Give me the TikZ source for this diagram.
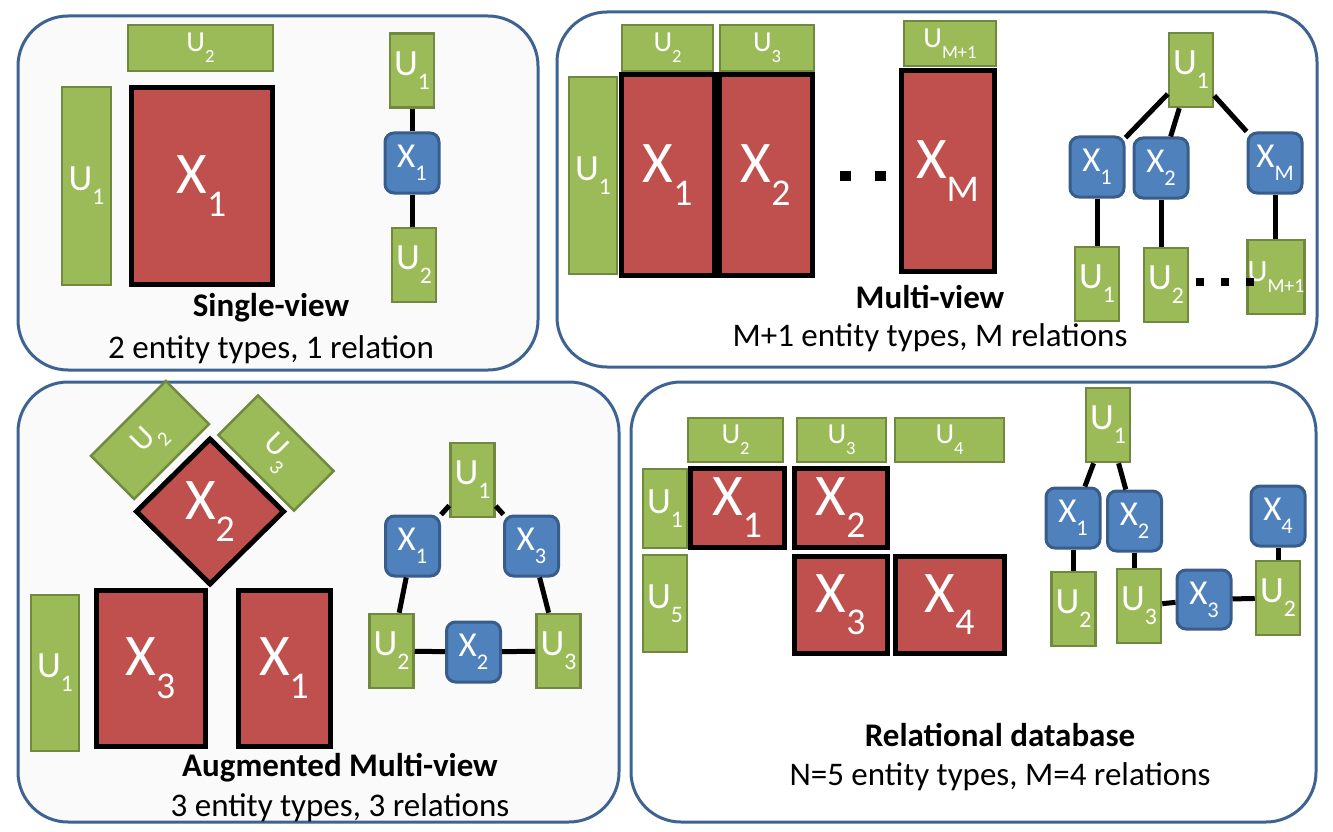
\documentclass[tikz,border=0pt]{standalone}
\usepackage{fontspec}
\setmainfont{Carlito}
\usetikzlibrary{shapes.geometric}
\definecolor{ugreen}{HTML}{9BBB59}
\definecolor{ugreenline}{HTML}{71893F}
\definecolor{xred}{HTML}{C0504D}
\definecolor{xblue}{HTML}{4F81BD}
\definecolor{xblueline}{HTML}{385D8A}
\definecolor{panelline}{HTML}{3E6393}
\definecolor{panelgray}{HTML}{FAFAFA}
\newcommand{\ent}[2]{#1\raisebox{-0.38em}{\scalebox{0.64}{#2}}}
\begin{document}
\begin{tikzpicture}[x=1pt, y=-1pt,
        panel/.style={draw=panelline, line width=3pt, rounded corners=50pt},
        ubar/.style={rectangle, draw=ugreenline, fill=ugreen, line width=2.5pt, inner sep=0pt, text=white, font=\fontsize{37}{37}\selectfont},
        ubartop/.style={ubar, font=\fontsize{29}{29}\selectfont},
        xmat/.style={rectangle, draw=black, fill=xred, line width=5pt, inner sep=0pt, text=white, font=\fontsize{59}{59}\selectfont},
        xnode/.style={rectangle, draw=xblueline, fill=xblue, line width=3pt, rounded corners=9pt, minimum width=54, minimum height=60, inner sep=0pt, text=white, font=\fontsize{35}{35}\selectfont},
        unode/.style={ubar, minimum width=44, minimum height=74},
        link/.style={line width=5pt},
        title/.style={font=\fontsize{33}{33}\selectfont\bfseries},
        note/.style={font=\fontsize{33}{33}\selectfont}
    ]
    \useasboundingbox (0,0) rectangle (1333,832);

    % Define panels
    \draw[panel, fill=panelgray] (18,16) rectangle (538,370);
    \draw[panel, fill=white] (557,12) rectangle (1317,367);
    \draw[panel, fill=panelgray] (18,382) rectangle (619,822);
    \draw[panel, fill=white] (631,382) rectangle (1316,822);

    % Single-view
    \node[ubartop, minimum width=145, minimum height=46] (sv-u2) at (200.5,48) {\ent{U}{2}};
    \node[ubar, minimum width=49, minimum height=198] (sv-u1) at (86.5,186) {\ent{U}{1}};
    \node[xmat, minimum width=141, minimum height=196] (sv-x1) at (201.5,186) {\ent{X}{1}};
    \node[unode] (sv-g-u1) at (412,70.5) {\ent{U}{1}};
    \node[xnode] (sv-g-x1) at (412,163) {\ent{X}{1}};
    \node[unode] (sv-g-u2) at (414,265) {\ent{U}{2}};
    \draw[link] (sv-g-u1) -- (sv-g-x1);
    \draw[link] (sv-g-x1.south) -- (sv-g-x1.south |- sv-g-u2.north);
    \node[title] (sv-title) at (271,308) {Single-view};
    \node[note] (sv-note) at (271,350) {2 entity types, 1 relation};

    % Multi-view
    \node[ubar, minimum width=48, minimum height=197] (mv-u1) at (593,175.5) {\ent{U}{1}};
    \node[xmat, minimum width=93, minimum height=200] (mv-x1) at (667.5,175) {\ent{X}{1}};
    \node[xmat, minimum width=93, minimum height=200] (mv-x2) at (765.5,175) {\ent{X}{2}};
    \node[ubartop, minimum width=91, minimum height=46] (mv-u2) at (667.5,48) {\ent{U}{2}};
    \node[ubartop, minimum width=94, minimum height=46] (mv-u3) at (767,48) {\ent{U}{3}};
    \fill (840,171) rectangle (851,181);
    \fill (875,171) rectangle (886,181);
    \node[xmat, minimum width=93, minimum height=200] (mv-xm) at (947.5,171) {\ent{X}{M}};
    \node[ubartop, minimum width=92, minimum height=45] (mv-um) at (950,43.5) {\ent{U}{M+1}};
    \node[unode] (mv-g-u1) at (1191,70) {\ent{U}{1}};
    \node[xnode] (mv-g-x1) at (1097,167) {\ent{X}{1}};
    \node[xnode] (mv-g-x2) at (1161,168) {\ent{X}{2}};
    \node[xnode] (mv-g-xm) at (1275,163) {\ent{X}{M}};
    \node[unode] (mv-g-u1b) at (1097,284) {\ent{U}{1}};
    \node[unode] (mv-g-u2b) at (1166,285) {\ent{U}{2}};
    \node[unode, font=\fontsize{31}{31}\selectfont] (mv-g-umb) at (1276,277) {\ent{U}{M+1}};
    \draw[link] (mv-g-u1) -- (mv-g-x1);
    \draw[link] (mv-g-u1) -- (mv-g-x2);
    \draw[link] (mv-g-u1) -- (mv-g-xm);
    \draw[link] (mv-g-x1.south) -- (mv-g-x1.south |- mv-g-u1b.north);
    \draw[link] (mv-g-x2.south) -- (mv-g-x2.south |- mv-g-u2b.north);
    \draw[link] (mv-g-xm.south) -- (mv-g-xm.south |- mv-g-umb.north);
    \foreach \dx in {1196,1221,1246}
        \fill (\dx,278) rectangle +(8,8);
    \node[title] (mv-title) at (930,297) {Multi-view};
    \node[note] (mv-note) at (930,338) {M+1 entity types, M relations};

    % Augmented Multi-view
    \node[ubar, rotate=45, minimum width=106, minimum height=61, font=\fontsize{32}{32}\selectfont] (am-u2) at (150,440) {\ent{U}{2}};
    \node[ubar, rotate=-45, minimum width=107, minimum height=56, font=\fontsize{32}{32}\selectfont] (am-u3) at (276,453) {\ent{U}{3}};
    \node[xmat, diamond, minimum width=149, minimum height=147] (am-x2) at (210,511.5) {\ent{X}{2}};
    \node[ubar, minimum width=48, minimum height=156] (am-u1) at (55,673) {\ent{U}{1}};
    \node[xmat, minimum width=109, minimum height=156] (am-x3) at (150.5,668) {\ent{X}{3}};
    \node[xmat, minimum width=92, minimum height=156] (am-x1) at (284,668) {\ent{X}{1}};
    \node[unode] (am-g-u1) at (472.5,480) {\ent{U}{1}};
    \node[xnode] (am-g-x1) at (412.5,546) {\ent{X}{1}};
    \node[xnode] (am-g-x3) at (531.5,546) {\ent{X}{3}};
    \node[unode] (am-g-u2) at (391.5,651) {\ent{U}{2}};
    \node[xnode] (am-g-x2) at (473.5,652) {\ent{X}{2}};
    \node[unode] (am-g-u3) at (558.5,651) {\ent{U}{3}};
    \draw[link] (am-g-u1) -- (am-g-x1);
    \draw[link] (am-g-u1) -- (am-g-x3);
    \draw[link] (am-g-x1) -- (am-g-u2);
    \draw[link] (am-g-x3) -- (am-g-u3);
    \draw[link] (am-g-u2) -- (am-g-x2);
    \draw[link] (am-g-x2) -- (am-g-u3);
    \node[title] (am-title) at (340,768) {Augmented Multi-view};
    \node[note] (am-note) at (340,808) {3 entity types, 3 relations};

    % Relational database
    \node[ubartop, minimum width=95, minimum height=44] (rd-u2) at (735.5,440) {\ent{U}{2}};
    \node[ubartop, minimum width=89, minimum height=44] (rd-u3) at (841.5,440) {\ent{U}{3}};
    \node[ubartop, minimum width=109, minimum height=44] (rd-u4) at (949.5,440) {\ent{U}{4}};
    \node[ubar, minimum width=44, minimum height=79] (rd-u1) at (665,508.5) {\ent{U}{1}};
    \node[xmat, minimum width=94, minimum height=79] (rd-x1) at (737,507.5) {\ent{X}{1}};
    \node[xmat, minimum width=93, minimum height=79] (rd-x2) at (840.5,507.5) {\ent{X}{2}};
    \node[ubar, minimum width=44, minimum height=97] (rd-u5) at (665,603.5) {\ent{U}{5}};
    \node[xmat, minimum width=93, minimum height=97] (rd-x3) at (840.5,604.5) {\ent{X}{3}};
    \node[xmat, minimum width=109, minimum height=97] (rd-x4) at (949.5,604.5) {\ent{X}{4}};
    \node[unode] (rd-g-u1) at (1108,425) {\ent{U}{1}};
    \node[xnode] (rd-g-x1) at (1073,518) {\ent{X}{1}};
    \node[xnode] (rd-g-x2) at (1134.5,521) {\ent{X}{2}};
    \node[xnode] (rd-g-x4) at (1278,516) {\ent{X}{4}};
    \node[unode] (rd-g-u2) at (1073.5,609) {\ent{U}{2}};
    \node[unode] (rd-g-u3) at (1139,606) {\ent{U}{3}};
    \node[xnode, minimum height=59] (rd-g-x3) at (1204,599.5) {\ent{X}{3}};
    \node[unode] (rd-g-u2r) at (1278,598) {\ent{U}{2}};
    \draw[link] (rd-g-u1) -- (rd-g-x1);
    \draw[link] (rd-g-u1) -- (rd-g-x2);
    \draw[link] (rd-g-x1.south) -- (rd-g-x1.south |- rd-g-u2.north);
    \draw[link] (rd-g-x2.south) -- (rd-g-x2.south |- rd-g-u3.north);
    \draw[link] (rd-g-u3) -- (rd-g-x3);
    \draw[link] (rd-g-x3) -- (rd-g-u2r);
    \draw[link] (rd-g-x4) -- (rd-g-u2r);
    \node[title] (rd-title) at (1000,735) {Relational database};
    \node[note] (rd-note) at (1000,777) {N=5 entity types, M=4 relations};

\end{tikzpicture}
\end{document}
